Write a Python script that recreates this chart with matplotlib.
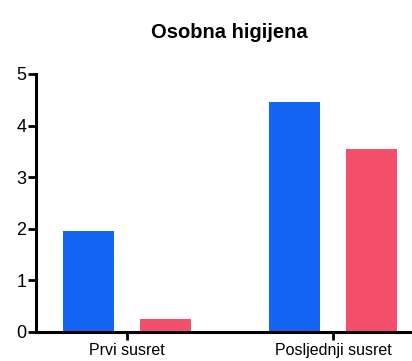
import numpy as np
import matplotlib.pyplot as plt

plt.rcParams['font.family'] = ['Liberation Sans', 'DejaVu Sans']

categories = ["Prvi susret", "Posljednji susret"]
series_a = [1.95, 4.45]
series_b = [0.25, 3.55]
yticks = [0, 1, 2, 3, 4, 5]

fig = plt.figure(figsize=(4.12, 3.61), dpi=100)
ax = fig.add_axes([36 / 412, 1 - 332 / 361, (410 - 36) / 412, (332 - 74) / 361])

x = np.arange(len(categories))
w = 0.248
ax.bar(x - 0.187, series_a, w, color="#1565F5")
ax.bar(x + 0.187, series_b, w, color="#F4506B")

ax.set_xlim(-0.44, 1.374)
ax.set_ylim(0, 5)
ax.set_yticks(yticks)
ax.set_xticks(x)
ax.set_xticklabels(categories, fontsize=11.5)
ax.tick_params(axis="y", labelsize=13, width=2, length=6, pad=1)
ax.tick_params(axis="x", width=2, length=6, pad=2)

for s in ["top", "right"]:
    ax.spines[s].set_visible(False)
for s in ["left", "bottom"]:
    ax.spines[s].set_linewidth(2.2)

fig.text(229 / 412, 1 - 33 / 361, "Osobna higijena", ha="center", va="center",
         fontsize=14.5, fontweight="bold")

fig.savefig("out.png", dpi=100)
